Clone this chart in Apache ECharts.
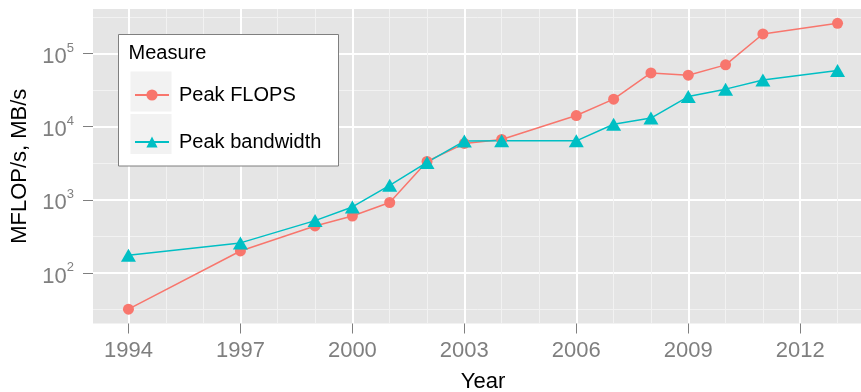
<!DOCTYPE html>
<html><head><meta charset="utf-8">
<script src="https://cdn.jsdelivr.net/npm/echarts@6/dist/echarts.min.js"></script>
<style>html,body{margin:0;padding:0;background:#fff}#c{width:861px;height:392px}</style>
</head><body><div id="c"></div>
<script>
const years = [1994, 1997, 1999, 2000, 2001, 2002, 2003, 2004, 2006, 2007, 2008, 2009, 2010, 2011, 2013];
const peakFlops = [32, 200, 440, 600, 920, 3350, 5900, 6700, 14200, 23800, 54300, 50600, 70000, 185000, 259000];
const peakBandwidth = [175, 258, 520, 800, 1580, 3250, 6350, 6400, 6400, 10800, 13100, 25800, 32600, 43600, 58500];
const seriesNames = ['Peak FLOPS', 'Peak bandwidth'];
const xMajorTicks = [1994, 1997, 2000, 2003, 2006, 2009, 2012];
const xMinorTicks = [1995, 1996, 1998, 1999, 2001, 2002, 2004, 2005, 2007, 2008, 2010, 2011, 2013];
const yMajorTicks = [100, 1000, 10000, 100000];
const yMinorTicks = [Math.pow(10, 1.5), Math.pow(10, 2.5), Math.pow(10, 3.5), Math.pow(10, 4.5), Math.pow(10, 5.5)];

const FONT = '"Liberation Sans", Arial, Helvetica, sans-serif';
const RED = '#F8766D', TEAL = '#00BFC4';

// ggplot-like 5% expansion computed from data
const xLo = Math.min(...years), xHi = Math.max(...years);
const xPad = (xHi - xLo) * 0.05;
const allVals = peakFlops.concat(peakBandwidth);
const lLo = Math.log10(Math.min(...allVals)), lHi = Math.log10(Math.max(...allVals));
const lPad = (lHi - lLo) * 0.05;
const yMin = Math.pow(10, lLo - lPad), yMax = Math.pow(10, lHi + lPad);

const pairs = (vals) => years.map((y, i) => [y, vals[i]]);

const chart = echarts.init(document.getElementById('c'), null, {renderer: 'canvas'});
chart.setOption({
  animation: false,
  textStyle: {fontFamily: FONT},
  grid: {left: 93, top: 9, width: 780, height: 314.5, show: true, backgroundColor: '#E5E5E5', borderWidth: 0,
    containLabel: false, outerBoundsMode: 'none'},
  title: {text: 'Measure', left: 128.5, top: 43, padding: 0, z: 6,
    textStyle: {fontSize: 20, fontWeight: 'normal', color: '#000', fontFamily: FONT}},
  graphic: {
    z: 3,
    elements: [
      {type: 'rect', shape: {x: 118.5, y: 34.5, width: 220, height: 131.5}, style: {fill: '#fff', stroke: '#7F7F7F', lineWidth: 1}, z: 3},
      {type: 'rect', shape: {x: 130.5, y: 71.5, width: 41, height: 40}, style: {fill: '#F2F2F2'}, z: 3},
      {type: 'rect', shape: {x: 130.5, y: 114, width: 41, height: 40}, style: {fill: '#F2F2F2'}, z: 3}
    ]
  },
  legend: {
    orient: 'vertical', left: 118, top: 34,
    padding: [51, 20, 25, 16],
    itemWidth: 34, itemHeight: 14, itemGap: 27,
    z: 5,
    textStyle: {fontSize: 20, color: '#000', fontFamily: FONT, padding: [0, 0, 0, 5]},
    data: seriesNames
  },
  xAxis: [
    {
      type: 'value', min: xLo - xPad, max: xHi + xPad,
      name: 'Year', nameLocation: 'middle', nameGap: 47,
      nameTextStyle: {fontSize: 22, color: '#000', fontFamily: FONT},
      axisLine: {show: false, onZero: false},
      axisTick: {show: true, length: 10, customValues: xMajorTicks, lineStyle: {color: '#7F7F7F', width: 1}},
      axisLabel: {customValues: xMajorTicks, margin: 16, fontSize: 22, color: '#7F7F7F', fontFamily: FONT,
        formatter: (v) => String(v)},
      splitLine: {show: true, lineStyle: {color: '#FFFFFF', width: 2}}
    },
    {
      type: 'value', min: xLo - xPad, max: xHi + xPad, position: 'bottom',
      axisLine: {show: false, onZero: false},
      axisTick: {show: false, customValues: xMinorTicks},
      axisLabel: {show: false, customValues: xMinorTicks},
      splitLine: {show: true, lineStyle: {color: '#F2F2F2', width: 1}}
    }
  ],
  yAxis: [
    {
      type: 'log', logBase: 10, min: yMin, max: yMax,
      name: 'MFLOP/s, MB/s', nameLocation: 'middle', nameGap: 62,
      nameTextStyle: {fontSize: 22, color: '#000', fontFamily: FONT},
      axisLine: {show: false, onZero: false},
      axisTick: {show: true, length: 10, customValues: yMajorTicks, lineStyle: {color: '#7F7F7F', width: 1}},
      axisLabel: {
        customValues: yMajorTicks, margin: 19,
        formatter: (v) => '{a|10}{b|' + Math.round(Math.log10(v)) + '}',
        rich: {
          a: {fontSize: 22, color: '#7F7F7F', fontFamily: FONT, lineHeight: 24, padding: [7, 0, 0, 0]},
          b: {fontSize: 13, color: '#7F7F7F', fontFamily: FONT, lineHeight: 13, padding: [0, 0, 0, 0], verticalAlign: 'top'}
        }
      },
      splitLine: {show: true, lineStyle: {color: '#FFFFFF', width: 2}}
    },
    {
      type: 'log', logBase: 10, min: yMin, max: yMax,
      axisLine: {show: false, onZero: false},
      axisTick: {show: false, customValues: yMinorTicks},
      axisLabel: {show: false, customValues: yMinorTicks},
      splitLine: {show: true, lineStyle: {color: '#F2F2F2', width: 1}}
    }
  ],
  series: [
    {
      name: seriesNames[0], type: 'line', xAxisIndex: 0, yAxisIndex: 0,
      data: pairs(peakFlops), symbol: 'circle', symbolSize: 11, showAllSymbol: true,
      lineStyle: {color: RED, width: 1.5}, itemStyle: {color: RED}, z: 2
    },
    {
      name: seriesNames[1], type: 'line', xAxisIndex: 0, yAxisIndex: 0,
      data: pairs(peakBandwidth), symbol: 'triangle', symbolSize: [15, 13], showAllSymbol: true,
      lineStyle: {color: TEAL, width: 1.5}, itemStyle: {color: TEAL}, z: 2
    }
  ]
});
</script></body></html>
